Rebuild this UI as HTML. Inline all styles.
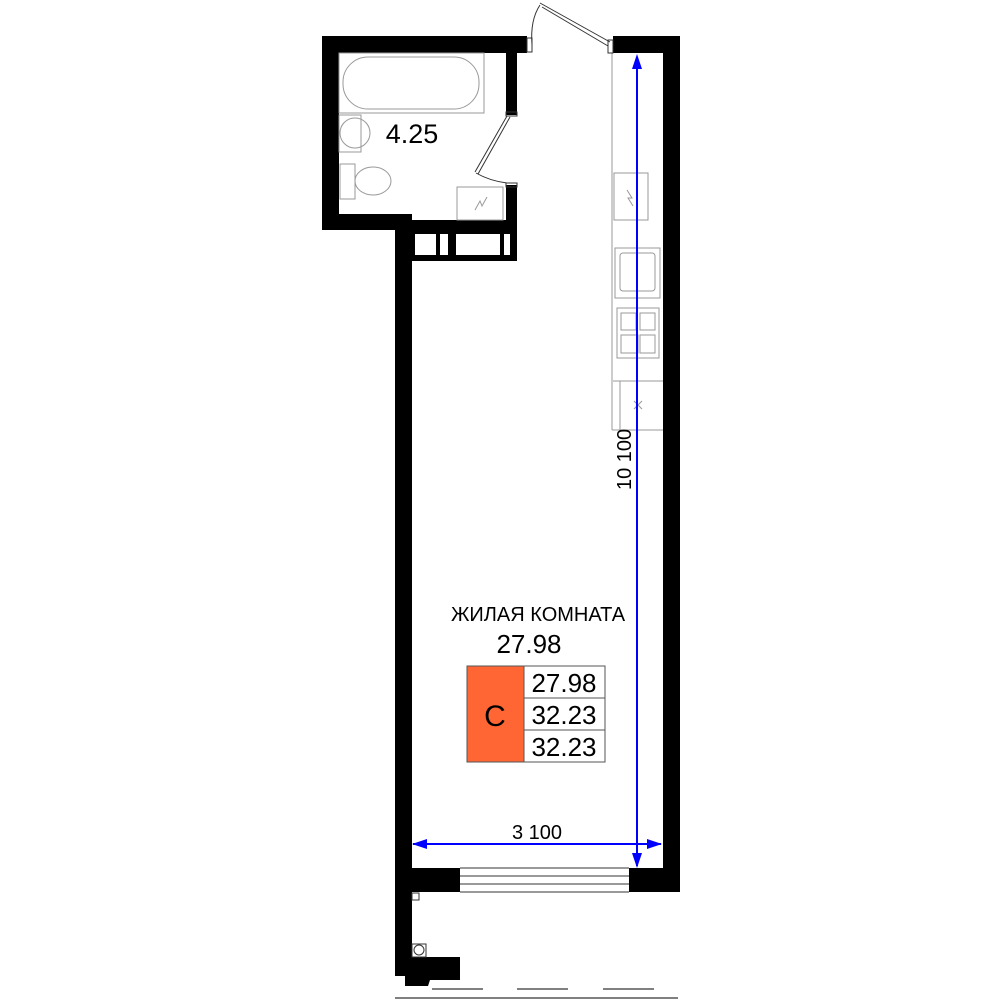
<!DOCTYPE html>
<html><head><style>body{margin:0;background:#fff}svg{display:block}</style></head><body>
<svg width="1000" height="1000" viewBox="0 0 1000 1000" xmlns="http://www.w3.org/2000/svg" font-family="Liberation Sans, sans-serif">
<rect width="1000" height="1000" fill="#fff"/>
<g fill="#000">
<rect x="322" y="36" width="205" height="17"/>
<rect x="322" y="36" width="17" height="194"/>
<rect x="322" y="214" width="90" height="16"/>
<rect x="395" y="214" width="17" height="762"/>
<rect x="411" y="220" width="106" height="41"/>
<rect x="506" y="53" width="11" height="62"/>
<rect x="506" y="185" width="11" height="76"/>
<rect x="613" y="36" width="67" height="17"/>
<rect x="663" y="36" width="17" height="856"/>
<rect x="395" y="868" width="65" height="24"/>
<rect x="629" y="868" width="51" height="24"/>
<path d="M395 957 H460 V980 H430 L428 986 H405 V976 H395Z"/>
</g>
<g fill="#fff">
<rect x="415" y="234" width="21" height="21"/><rect x="440" y="234" width="8" height="21"/><rect x="456" y="234" width="44" height="21"/><rect x="504" y="234" width="6" height="21"/>
</g>
<g fill="none" stroke="#999" stroke-width="1">
<rect x="339" y="53" width="145" height="60"/>
<rect x="343" y="57" width="136" height="52" rx="25"/>
<rect x="339" y="115" width="22" height="37"/>
<ellipse cx="355" cy="133" rx="15" ry="15"/>
<rect x="340" y="164" width="15" height="35"/>
<ellipse cx="373" cy="181" rx="18" ry="14"/>
<rect x="457" y="187" width="46" height="33"/>
<path d="M475 210 l5 -9 l2 5 l5 -9"/>
<line x1="612" y1="53" x2="612" y2="430"/>
<line x1="612" y1="430" x2="663" y2="430"/>
<rect x="614" y="173" width="34" height="47"/>
<path d="M627 190 l5 8 l-4 0 l5 8"/>
<rect x="615" y="248" width="45" height="50"/>
<rect x="620" y="253" width="35" height="38" rx="3"/>
<rect x="617" y="308" width="42" height="50"/>
<rect x="621" y="313" width="15" height="17"/><rect x="640" y="313" width="15" height="17"/>
<rect x="621" y="335" width="17" height="18"/><rect x="640" y="335" width="15" height="18"/>
<line x1="613" y1="381" x2="663" y2="381"/>
<line x1="620" y1="381" x2="620" y2="430"/>
<path d="M634 401 l8 8 M642 401 l-8 8"/>
</g>
<g fill="none" stroke="#333" stroke-width="1">
<rect x="527" y="38" width="5" height="14"/>
<rect x="608" y="40" width="5" height="13"/>
<path d="M532 45 Q530 20 540 5"/>
<path d="M540 3 L610 42 M542 7 L608 46"/>
<rect x="506" y="112" width="11" height="4"/>
<rect x="506" y="183" width="11" height="4"/>
<path d="M507 116 L475 172 M510 117 L478 174"/>
<path d="M476 173 Q490 181 507 183"/>
<line x1="460" y1="868" x2="629" y2="868"/><line x1="460" y1="876" x2="629" y2="876"/><line x1="460" y1="884" x2="629" y2="884"/><line x1="460" y1="892" x2="629" y2="892"/>
<rect x="412" y="893" width="7" height="7" fill="#fff"/>
<rect x="412" y="944" width="14" height="13" fill="#fff"/><circle cx="419" cy="950" r="5"/>
</g>
<g stroke="#000" stroke-width="1"><line x1="395" y1="998" x2="678" y2="998"/><line x1="432" y1="989" x2="483" y2="989"/><line x1="517" y1="989" x2="568" y2="989"/><line x1="603" y1="989" x2="654" y2="989"/></g>
<g stroke="#00f" stroke-width="2" fill="#00f">
<line x1="637" y1="62" x2="637" y2="866"/>
<path d="M637 54 L632 69 H642Z" stroke="none"/>
<path d="M637 868 L632 853 H642Z" stroke="none"/>
<line x1="413" y1="844" x2="661" y2="844"/>
<path d="M412 844 L427 839 V849Z" stroke="none"/>
<path d="M662 844 L647 839 V849Z" stroke="none"/>
</g>
<text x="631" y="490" font-size="20" transform="rotate(-90 631 490)">10 100</text>
<text x="537" y="839" font-size="20" text-anchor="middle">3 100</text>
<text x="412" y="143" font-size="27" text-anchor="middle">4.25</text>
<text x="538" y="621" font-size="20" text-anchor="middle">ЖИЛАЯ КОМНАТА</text>
<text x="529" y="653" font-size="26" text-anchor="middle">27.98</text>
<rect x="467" y="666" width="57" height="96" fill="#ff6633" stroke="#555"/>
<rect x="524" y="666" width="81" height="32" fill="#fff" stroke="#555"/>
<rect x="524" y="698" width="81" height="32" fill="#fff" stroke="#555"/>
<rect x="524" y="730" width="81" height="32" fill="#fff" stroke="#555"/>
<text x="495" y="726" font-size="30" text-anchor="middle">C</text>
<text x="564" y="692" font-size="26" text-anchor="middle">27.98</text>
<text x="564" y="724" font-size="26" text-anchor="middle">32.23</text>
<text x="564" y="756" font-size="26" text-anchor="middle">32.23</text>
</svg>
</body></html>
